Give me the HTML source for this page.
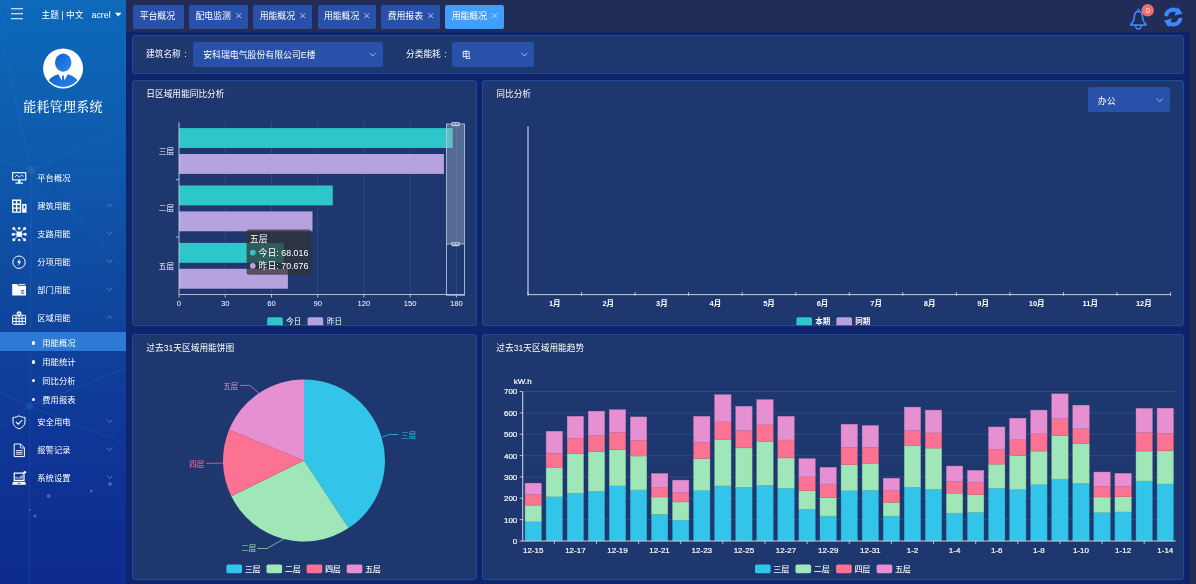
<!DOCTYPE html><html lang="zh-CN"><head><meta charset="utf-8"><title>能耗管理系统</title><style>
html,body{margin:0;padding:0;}
body{width:1196px;height:584px;overflow:hidden;background:#10246b;font-family:"Liberation Sans","Noto Sans CJK SC",sans-serif;color:#fff;position:relative;font-size:8.7px;}
*{box-sizing:border-box;}
.abs{position:absolute;}
#side{position:absolute;left:0;top:0;width:126px;height:584px;overflow:hidden;
 background:linear-gradient(180deg,#0d69ba 0%,#0e5bae 25%,#0f489f 50%,#0f3696 75%,#0e2b8f 100%);}
#top{position:absolute;left:126px;top:0;width:1070px;height:32px;background:#212c57;}
#scroll{position:absolute;left:1190px;top:32px;width:6px;height:552px;background:#212c57;}
.tab{position:absolute;top:5px;height:23.5px;background:#2a51a9;border-radius:2px;line-height:23px;font-size:8.85px;white-space:nowrap;padding-left:6.3px;}
.tab.on{background:#409eff;}
.tab svg{position:absolute;left:auto;right:7px;top:8.2px;width:5.4px;height:5.4px}
.panel{position:absolute;background:#1e376f;border:1px solid #1d4c9d;border-radius:3px;}
.ptitle{position:absolute;font-size:8.7px;line-height:12px;white-space:nowrap;}
.sel{position:absolute;background:#2a51a9;border-radius:2.5px;font-size:8.9px;white-space:nowrap;}
.sel span{position:absolute;top:50%;transform:translateY(-50%);}
.mi{position:absolute;left:0;width:126px;height:28px;line-height:28px;font-size:8.3px;}
.mi .t{position:absolute;left:37.3px;top:0;}
.sub{position:absolute;left:0;width:126px;height:18.7px;line-height:18.7px;font-size:8.3px;}
.sub .t{position:absolute;left:42.3px;top:1.8px;}
.sub .d{position:absolute;left:32px;top:9.4px;width:3.2px;height:3.2px;border-radius:50%;background:#fff;}
.sub.on{background:#2c7ad6;}
svg{position:absolute;left:0;top:0;overflow:visible}
svg text{font-family:"Liberation Sans","Noto Sans CJK SC",sans-serif;}
</style></head><body>
<div id="side">
<svg width="126" height="584" viewBox="0 0 126 584"><g stroke="#3b8fe0" stroke-opacity="0.26" stroke-width="0.7" fill="none"><path d="M31.3 170 L30 406 L29 584"/><path d="M31.3 170 L126 127"/><path d="M31.3 170 L0 161"/><path d="M31.3 170 L126 270"/><path d="M31.3 170 L0 31"/><path d="M0 31 L12 0"/><path d="M0 428 L29.5 406 L126 444"/><path d="M29.5 406 L126 368"/><path d="M0 392 L29.5 406"/></g><circle cx="31.3" cy="170" r="4.2" fill="#1f78cf" fill-opacity="0.45"/><circle cx="29.5" cy="406" r="3.5" fill="#1f60cf" fill-opacity="0.4"/><g fill="#8f7fd6" fill-opacity="0.55"><circle cx="48.6" cy="496" r="2"/><circle cx="91.4" cy="491" r="1.5"/><circle cx="110" cy="484" r="2"/><circle cx="35" cy="516" r="1.6"/><circle cx="30" cy="510" r="1"/></g></svg>
<svg width="126" height="40" viewBox="0 0 126 40"><g stroke="#fff" stroke-width="1.1"><path d="M11 8.8H23M11 13.8H23M11 18.8H23"/></g><path d="M115 12.7 L121.5 12.7 L118.25 16.6 Z" fill="#fff"/></svg>
<div class="abs" style="left:41.5px;top:8px;line-height:14px;font-size:8.7px;white-space:nowrap">主题 | 中文</div>
<div class="abs" style="left:91.5px;top:7.5px;line-height:14px;font-size:8.9px;white-space:nowrap">acrel</div>
<svg width="126" height="100" viewBox="0 0 126 100"><defs><linearGradient id="ag" x1="0" y1="0" x2="1" y2="1"><stop offset="0" stop-color="#0d5fd0"/><stop offset="1" stop-color="#2d8bf0"/></linearGradient><clipPath id="ac"><circle cx="63.1" cy="68.4" r="18.6"/></clipPath></defs><circle cx="63.1" cy="68.4" r="20" fill="#fff"/><g clip-path="url(#ac)" fill="url(#ag)"><ellipse cx="63.2" cy="62.6" rx="8.2" ry="9.1"/><path d="M46 90 C46 80 52 76 58.5 74.2 L61.6 80.5 L63.1 76.5 L64.6 80.5 L67.7 74.2 C74 76 80.5 80 80.5 90 Z"/><path d="M62.3 75.6 H63.9 L64.4 80.5 L63.1 82 L61.8 80.5 Z"/></g></svg>
<div class="abs" style="left:0;top:98.3px;width:126px;text-align:center;font-family:'Liberation Serif','Noto Serif CJK SC',serif;font-size:13px;letter-spacing:0.25px;line-height:17px;padding-left:0.2px;font-weight:500">能耗管理系统</div>
<div class="mi" style="top:164.3px"><svg width="126" height="28" viewBox="0 0 126 28"><g fill="none" stroke="#fff" stroke-width="1.1"><rect x="12.6" y="8.7" width="13.2" height="7.2"/><path d="M14.8 13.2 L17 11 L19.2 13.3 L21.4 11.3 L23.6 12.3" stroke-width="0.8"/><path d="M15.5 19.1 H22.9" stroke-width="1.3"/><path d="M19.2 16 V18.8" stroke-width="2.4"/></g></svg><span class="t">平台概况</span></div>
<div class="mi" style="top:192.2px"><svg width="126" height="28" viewBox="0 0 126 28"><g fill="#fff"><path fill-rule="evenodd" d="M12 7.6 H21.2 V20.8 H12 Z M13.4 9 V11.6 H15.9 V9 Z M17.3 9 V11.6 H19.8 V9 Z M13.4 12.9 V15.5 H15.9 V12.9 Z M17.3 12.9 V15.5 H19.8 V12.9 Z M13.4 16.8 V19.4 H15.9 V16.8 Z M17.3 16.8 V19.4 H19.8 V16.8 Z"/><path fill-rule="evenodd" d="M22.2 12 H26.5 V20.8 H22.2 Z M23.6 13.6 V16.4 H25.1 V13.6 Z"/></g><path d="M107.1 12.0 L109.7 14.5 L112.3 12.0" stroke="#86a6d6" stroke-opacity="0.8" stroke-width="0.8" fill="none"/></svg><span class="t">建筑用能</span></div>
<div class="mi" style="top:220.1px"><svg width="126" height="28" viewBox="0 0 126 28"><g fill="#fff" stroke="#fff" stroke-width="0.9"><rect x="16.6" y="11.6" width="5.2" height="5.2" stroke="none"/><path d="M14 8.6 L17 11.8 M24.4 8.6 L21.4 11.8 M14 19.8 L17 16.6 M24.4 19.8 L21.4 16.6 M13.4 14.2 H25" fill="none"/><g stroke="none"><circle cx="13.8" cy="8.6" r="1.5"/><circle cx="24.6" cy="8.6" r="1.5"/><circle cx="13.8" cy="19.8" r="1.5"/><circle cx="24.6" cy="19.8" r="1.5"/><circle cx="13.2" cy="14.2" r="1.5"/><circle cx="25.2" cy="14.2" r="1.5"/><circle cx="19.2" cy="8.4" r="1.3"/><circle cx="19.2" cy="20" r="1.3"/></g></g><path d="M107.1 12.0 L109.7 14.5 L112.3 12.0" stroke="#86a6d6" stroke-opacity="0.8" stroke-width="0.8" fill="none"/></svg><span class="t">支路用能</span></div>
<div class="mi" style="top:248.0px"><svg width="126" height="28" viewBox="0 0 126 28"><circle cx="19" cy="14.2" r="6.2" fill="none" stroke="#fff" stroke-width="1"/><path d="M20 10.6 L17 14.6 H19 L18.2 17.8 L21.2 13.6 H19.2 Z" fill="#fff"/><path d="M107.1 12.0 L109.7 14.5 L112.3 12.0" stroke="#86a6d6" stroke-opacity="0.8" stroke-width="0.8" fill="none"/></svg><span class="t">分项用能</span></div>
<div class="mi" style="top:275.9px"><svg width="126" height="28" viewBox="0 0 126 28"><path fill="#fff" fill-rule="evenodd" d="M12.2 8 H17 L18.4 9.8 H26 V19.6 H12.2 Z M21 14.2 V15.2 H24.2 V14.2 Z M21 16.4 V17.4 H24.2 V16.4 Z"/><path d="M18.5 8.4 H25.2" stroke="#fff" stroke-width="0.9"/><path d="M107.1 12.0 L109.7 14.5 L112.3 12.0" stroke="#86a6d6" stroke-opacity="0.8" stroke-width="0.8" fill="none"/></svg><span class="t">部门用能</span></div>
<div class="mi" style="top:303.8px"><svg width="126" height="28" viewBox="0 0 126 28"><g fill="none" stroke="#fff" stroke-width="1"><rect x="12.6" y="11.2" width="13" height="9.2" rx="1"/><path d="M12.6 14.3 H25.6 M12.6 17.4 H25.6 M16.1 11.2 V20.4 M19.1 14.3 V20.4 M22.1 11.2 V20.4"/></g><path d="M19.1 7 a2.6 2.6 0 0 1 2.6 2.6 c0 1.8 -2.6 4.4 -2.6 4.4 s-2.6 -2.6 -2.6 -4.4 A2.6 2.6 0 0 1 19.1 7 Z" fill="#fff" stroke="#0f4ba4" stroke-width="0.5"/><circle cx="19.1" cy="9.6" r="0.9" fill="#0f4ba4"/><path d="M107.1 14.5 L109.7 12.0 L112.3 14.5" stroke="#86a6d6" stroke-opacity="0.8" stroke-width="0.8" fill="none"/></svg><span class="t">区域用能</span></div>
<div class="mi" style="top:407.9px"><svg width="126" height="28" viewBox="0 0 126 28"><path d="M19 7.8 C21 9 23 9.4 25 9.4 V14 C25 17.4 22.4 19.6 19 20.8 C15.6 19.6 13 17.4 13 14 V9.4 C15 9.4 17 9 19 7.8 Z" fill="none" stroke="#fff" stroke-width="1"/><path d="M16 14 L18.3 16.2 L22.2 12" fill="none" stroke="#fff" stroke-width="1.1"/><path d="M107.1 12.0 L109.7 14.5 L112.3 12.0" stroke="#86a6d6" stroke-opacity="0.8" stroke-width="0.8" fill="none"/></svg><span class="t">安全用电</span></div>
<div class="mi" style="top:436.0px"><svg width="126" height="28" viewBox="0 0 126 28"><path d="M14.2 8 H20.6 L24.4 11.8 V20.6 H14.2 Z" fill="none" stroke="#fff" stroke-width="1"/><path d="M20.4 8.2 V12 H24.2" fill="none" stroke="#fff" stroke-width="0.8"/><path d="M16 14.6 H22.6 M16 16.4 H22.6 M16 18.2 H22.6" stroke="#fff" stroke-width="0.9"/><path d="M107.1 12.0 L109.7 14.5 L112.3 12.0" stroke="#86a6d6" stroke-opacity="0.8" stroke-width="0.8" fill="none"/></svg><span class="t">报警记录</span></div>
<div class="mi" style="top:463.7px"><svg width="126" height="28" viewBox="0 0 126 28"><path fill="#fff" fill-rule="evenodd" d="M13.6 8.6 H24.6 V17 H13.6 Z M14.8 9.8 V15.8 H23.4 V9.8 Z"/><path d="M16 14.8 V12.4 M17.6 14.8 V13.4 M19.2 14.8 V12.8 M20.8 14.8 V12 M22.2 14.8 V11" stroke="#fff" stroke-width="0.8"/><path d="M13 17.8 H25.2 L26 20.8 H12.2 Z" fill="#fff"/><rect x="17.6" y="18.9" width="3" height="0.8" fill="#10389b"/><circle cx="24.8" cy="8.2" r="1.3" fill="#fff"/><path d="M107.1 12.0 L109.7 14.5 L112.3 12.0" stroke="#86a6d6" stroke-opacity="0.8" stroke-width="0.8" fill="none"/></svg><span class="t">系统设置</span></div>
<div class="sub on" style="top:332.0px"><span class="d"></span><span class="t">用能概况</span></div>
<div class="sub" style="top:351.0px"><span class="d"></span><span class="t">用能统计</span></div>
<div class="sub" style="top:369.9px"><span class="d"></span><span class="t">同比分析</span></div>
<div class="sub" style="top:388.8px"><span class="d"></span><span class="t">费用报表</span></div>
</div>
<div id="top">
<div class="tab" style="left:7.4px;width:50.8px">平台概况</div>
<div class="tab" style="left:63.2px;width:58.9px">配电监测<svg viewBox="0 0 5.4 5.4"><path d="M0.3 0.3 L5.1 5.1 M5.1 0.3 L0.3 5.1" stroke="#e3ebfb" stroke-width="0.75" fill="none"/></svg></div>
<div class="tab" style="left:127.4px;width:58.9px">用能概况<svg viewBox="0 0 5.4 5.4"><path d="M0.3 0.3 L5.1 5.1 M5.1 0.3 L0.3 5.1" stroke="#e3ebfb" stroke-width="0.75" fill="none"/></svg></div>
<div class="tab" style="left:191.6px;width:58.9px">用能概况<svg viewBox="0 0 5.4 5.4"><path d="M0.3 0.3 L5.1 5.1 M5.1 0.3 L0.3 5.1" stroke="#e3ebfb" stroke-width="0.75" fill="none"/></svg></div>
<div class="tab" style="left:255.4px;width:58.9px">费用报表<svg viewBox="0 0 5.4 5.4"><path d="M0.3 0.3 L5.1 5.1 M5.1 0.3 L0.3 5.1" stroke="#e3ebfb" stroke-width="0.75" fill="none"/></svg></div>
<div class="tab on" style="left:319.4px;width:58.7px">用能概况<svg viewBox="0 0 5.4 5.4"><path d="M0.3 0.3 L5.1 5.1 M5.1 0.3 L0.3 5.1" stroke="#e3ebfb" stroke-width="0.75" fill="none"/></svg></div>
<svg width="1070" height="32" viewBox="126 0 1070 32"><g fill="none" stroke="#4087ff" stroke-width="1.7" stroke-linejoin="round"><path d="M1138.4 11.5 C1135.6 11.5 1134.6 13.4 1134.4 16 C1134.2 19.6 1133.6 22 1130.9 24.2 V25.1 H1145.9 V24.2 C1143.2 22 1142.6 19.6 1142.4 16 C1142.2 13.4 1141.2 11.5 1138.4 11.5 Z"/><circle cx="1138.4" cy="10" r="1.1" stroke-width="1"/><path d="M1135.6 26 C1135.8 30 1141 30 1141.2 26" stroke-width="1.3"/></g><circle cx="1147.7" cy="10.3" r="6.2" fill="#f56c6c"/><text x="1147.7" y="13.1" font-size="7.4" fill="#fff" text-anchor="middle">0</text><g><path d="M1166 16.3 A7.3 7.3 0 0 1 1178.2 11.6" fill="none" stroke="#4087ff" stroke-width="4"/><path d="M1177.9 6.9 L1182.5 13.6 L1174.4 15.7 Z" fill="#4087ff"/></g><g transform="rotate(180 1173.2 17.1)"><path d="M1166 16.3 A7.3 7.3 0 0 1 1178.2 11.6" fill="none" stroke="#4087ff" stroke-width="4"/><path d="M1177.9 6.9 L1182.5 13.6 L1174.4 15.7 Z" fill="#4087ff"/></g></svg>
</div>
<div id="scroll"></div>
<div class="panel" style="left:132px;top:35px;width:1052px;height:39px"></div>
<div class="abs" style="left:146px;top:47px;line-height:14px;font-size:8.7px;white-space:nowrap">建筑名称<span style="margin-left:3.6px">:</span></div>
<div class="sel" style="left:193px;top:41.8px;width:190px;height:25px"><span style="left:10.2px">安科瑞电气股份有限公司E楼</span></div>
<div class="abs" style="left:406px;top:47px;line-height:14px;font-size:8.7px;white-space:nowrap">分类能耗<span style="margin-left:3.6px">:</span></div>
<div class="sel" style="left:452px;top:41.8px;width:82px;height:25px"><span style="left:9.8px">电</span></div>
<div class="panel" style="left:132px;top:80px;width:345px;height:246px"></div>
<div class="panel" style="left:482px;top:80px;width:702px;height:246px"></div>
<div class="panel" style="left:132px;top:334px;width:345px;height:246px"></div>
<div class="panel" style="left:482px;top:334px;width:702px;height:246px"></div>
<div class="ptitle" style="left:146.3px;top:88px">日区域用能同比分析</div>
<div class="ptitle" style="left:496.3px;top:88px">同比分析</div>
<div class="ptitle" style="left:146.3px;top:342px">过去31天区域用能饼图</div>
<div class="ptitle" style="left:496.3px;top:342px">过去31天区域用能趋势</div>
<div class="sel" style="left:1088px;top:87.4px;width:82px;height:25px"><span style="left:9.8px;font-size:8.9px">办公</span></div>
<svg width="1196" height="584" viewBox="0 0 1196 584">
<path d="M369.6 52.9 L372.6 56.0 L375.6 52.9" stroke="#c3cfec" stroke-width="0.85" fill="none"/><path d="M521.4 52.9 L524.4 56.0 L527.4 52.9" stroke="#c3cfec" stroke-width="0.85" fill="none"/><path d="M1156.7 98.5 L1159.7 101.6 L1162.7 98.5" stroke="#c3cfec" stroke-width="0.85" fill="none"/>
<line x1="225.2" y1="122.3" x2="225.2" y2="294.5" stroke="#ffffff" stroke-opacity="0.13" stroke-width="0.7"/>
<line x1="271.5" y1="122.3" x2="271.5" y2="294.5" stroke="#ffffff" stroke-opacity="0.13" stroke-width="0.7"/>
<line x1="317.7" y1="122.3" x2="317.7" y2="294.5" stroke="#ffffff" stroke-opacity="0.13" stroke-width="0.7"/>
<line x1="363.9" y1="122.3" x2="363.9" y2="294.5" stroke="#ffffff" stroke-opacity="0.13" stroke-width="0.7"/>
<line x1="410.2" y1="122.3" x2="410.2" y2="294.5" stroke="#ffffff" stroke-opacity="0.13" stroke-width="0.7"/>
<line x1="456.4" y1="122.3" x2="456.4" y2="294.5" stroke="#ffffff" stroke-opacity="0.13" stroke-width="0.7"/>
<rect x="179.0" y="128.1" width="273.7" height="19.9" fill="#2ec7c9"/>
<rect x="179.0" y="154.0" width="264.9" height="19.9" fill="#b6a2de"/>
<text x="174" y="153.9" font-size="7.6" fill="#fff" text-anchor="end">三层</text>
<rect x="179.0" y="185.5" width="153.8" height="19.9" fill="#2ec7c9"/>
<rect x="179.0" y="211.4" width="133.5" height="19.9" fill="#b6a2de"/>
<text x="174" y="211.3" font-size="7.6" fill="#fff" text-anchor="end">二层</text>
<rect x="179.0" y="242.9" width="104.8" height="19.9" fill="#2ec7c9"/>
<rect x="179.0" y="268.8" width="108.9" height="19.9" fill="#b6a2de"/>
<text x="174" y="268.7" font-size="7.6" fill="#fff" text-anchor="end">五层</text>
<path d="M179.0 122.3 V294.5 H464.6" stroke="#d6dcea" stroke-width="0.8" fill="none"/>
<line x1="175.8" y1="179.7" x2="179.0" y2="179.7" stroke="#d6dcea" stroke-width="0.8"/>
<line x1="175.8" y1="237.1" x2="179.0" y2="237.1" stroke="#d6dcea" stroke-width="0.8"/>
<line x1="179.0" y1="294.5" x2="179.0" y2="297.5" stroke="#d6dcea" stroke-width="0.8"/>
<text x="179.0" y="305.9" font-size="7.7" fill="#fff" text-anchor="middle">0</text>
<line x1="225.2" y1="294.5" x2="225.2" y2="297.5" stroke="#d6dcea" stroke-width="0.8"/>
<text x="225.2" y="305.9" font-size="7.7" fill="#fff" text-anchor="middle">30</text>
<line x1="271.5" y1="294.5" x2="271.5" y2="297.5" stroke="#d6dcea" stroke-width="0.8"/>
<text x="271.5" y="305.9" font-size="7.7" fill="#fff" text-anchor="middle">60</text>
<line x1="317.7" y1="294.5" x2="317.7" y2="297.5" stroke="#d6dcea" stroke-width="0.8"/>
<text x="317.7" y="305.9" font-size="7.7" fill="#fff" text-anchor="middle">90</text>
<line x1="363.9" y1="294.5" x2="363.9" y2="297.5" stroke="#d6dcea" stroke-width="0.8"/>
<text x="363.9" y="305.9" font-size="7.7" fill="#fff" text-anchor="middle">120</text>
<line x1="410.2" y1="294.5" x2="410.2" y2="297.5" stroke="#d6dcea" stroke-width="0.8"/>
<text x="410.2" y="305.9" font-size="7.7" fill="#fff" text-anchor="middle">150</text>
<line x1="456.4" y1="294.5" x2="456.4" y2="297.5" stroke="#d6dcea" stroke-width="0.8"/>
<text x="456.4" y="305.9" font-size="7.7" fill="#fff" text-anchor="middle">180</text>
<rect x="446.5" y="124" width="18" height="171.2" fill="none" stroke="#c9d1e3" stroke-width="0.8"/>
<rect x="446.5" y="124" width="18" height="120" fill="#a7b7cc" fill-opacity="0.4"/>
<line x1="446.5" y1="244" x2="464.5" y2="244" stroke="#c9d1e3" stroke-width="0.8"/>
<rect x="451.4" y="122.1" width="8.3" height="4.2" rx="0.8" fill="#b4c0d6"/>
<rect x="452.9" y="123.0" width="2.1" height="1.3" fill="#5d7098"/><rect x="456.1" y="123.0" width="2.1" height="1.3" fill="#5d7098"/>
<rect x="451.4" y="242.0" width="8.3" height="4.2" rx="0.8" fill="#b4c0d6"/>
<rect x="452.9" y="242.9" width="2.1" height="1.3" fill="#5d7098"/><rect x="456.1" y="242.9" width="2.1" height="1.3" fill="#5d7098"/>
<path d="M267.2 325.2 V318.9 a1.6 1.6 0 0 1 1.6 -1.6 h12.4 a1.6 1.6 0 0 1 1.6 1.6 V325.2 Z" fill="#2ec7c9"/><text x="286.2" y="324.3" font-size="7.5" fill="#fff">今日</text>
<path d="M307.6 325.2 V318.9 a1.6 1.6 0 0 1 1.6 -1.6 h12.4 a1.6 1.6 0 0 1 1.6 1.6 V325.2 Z" fill="#b6a2de"/><text x="327.0" y="324.3" font-size="7.5" fill="#fff">昨日</text>
<rect x="246.6" y="229.4" width="64.6" height="45.4" rx="2.5" fill="#323232" fill-opacity="0.72"/>
<text x="249.8" y="242.2" font-size="8.9" fill="#fff">五层</text>
<circle cx="252.8" cy="252.6" r="2.9" fill="#2ec7c9"/><text x="258.6" y="255.8" font-size="8.9" fill="#fff">今日: 68.016</text>
<circle cx="252.8" cy="265.8" r="2.9" fill="#b6a2de"/><text x="258.6" y="269" font-size="8.9" fill="#fff">昨日: 70.676</text>
<path d="M528.0 126.2 V294.6" stroke="#b9c2d8" stroke-width="1.3" fill="none"/>
<path d="M528.0 294.6 H1170.6" stroke="#d6dcea" stroke-width="0.9" fill="none"/>
<line x1="528.0" y1="292.0" x2="528.0" y2="295.8" stroke="#d6dcea" stroke-width="0.8"/>
<line x1="581.5" y1="292.0" x2="581.5" y2="295.8" stroke="#d6dcea" stroke-width="0.8"/>
<line x1="635.1" y1="292.0" x2="635.1" y2="295.8" stroke="#d6dcea" stroke-width="0.8"/>
<line x1="688.6" y1="292.0" x2="688.6" y2="295.8" stroke="#d6dcea" stroke-width="0.8"/>
<line x1="742.2" y1="292.0" x2="742.2" y2="295.8" stroke="#d6dcea" stroke-width="0.8"/>
<line x1="795.8" y1="292.0" x2="795.8" y2="295.8" stroke="#d6dcea" stroke-width="0.8"/>
<line x1="849.3" y1="292.0" x2="849.3" y2="295.8" stroke="#d6dcea" stroke-width="0.8"/>
<line x1="902.8" y1="292.0" x2="902.8" y2="295.8" stroke="#d6dcea" stroke-width="0.8"/>
<line x1="956.4" y1="292.0" x2="956.4" y2="295.8" stroke="#d6dcea" stroke-width="0.8"/>
<line x1="1009.9" y1="292.0" x2="1009.9" y2="295.8" stroke="#d6dcea" stroke-width="0.8"/>
<line x1="1063.5" y1="292.0" x2="1063.5" y2="295.8" stroke="#d6dcea" stroke-width="0.8"/>
<line x1="1117.0" y1="292.0" x2="1117.0" y2="295.8" stroke="#d6dcea" stroke-width="0.8"/>
<line x1="1170.6" y1="292.0" x2="1170.6" y2="295.8" stroke="#d6dcea" stroke-width="0.8"/>
<text x="554.8" y="305.8" font-size="7.5" fill="#fff" text-anchor="middle" font-weight="bold">1月</text>
<text x="608.3" y="305.8" font-size="7.5" fill="#fff" text-anchor="middle" font-weight="bold">2月</text>
<text x="661.9" y="305.8" font-size="7.5" fill="#fff" text-anchor="middle" font-weight="bold">3月</text>
<text x="715.4" y="305.8" font-size="7.5" fill="#fff" text-anchor="middle" font-weight="bold">4月</text>
<text x="769.0" y="305.8" font-size="7.5" fill="#fff" text-anchor="middle" font-weight="bold">5月</text>
<text x="822.5" y="305.8" font-size="7.5" fill="#fff" text-anchor="middle" font-weight="bold">6月</text>
<text x="876.1" y="305.8" font-size="7.5" fill="#fff" text-anchor="middle" font-weight="bold">7月</text>
<text x="929.6" y="305.8" font-size="7.5" fill="#fff" text-anchor="middle" font-weight="bold">8月</text>
<text x="983.2" y="305.8" font-size="7.5" fill="#fff" text-anchor="middle" font-weight="bold">9月</text>
<text x="1036.7" y="305.8" font-size="7.5" fill="#fff" text-anchor="middle" font-weight="bold">10月</text>
<text x="1090.3" y="305.8" font-size="7.5" fill="#fff" text-anchor="middle" font-weight="bold">11月</text>
<text x="1143.8" y="305.8" font-size="7.5" fill="#fff" text-anchor="middle" font-weight="bold">12月</text>
<path d="M796.4 325.2 V318.9 a1.6 1.6 0 0 1 1.6 -1.6 h12.4 a1.6 1.6 0 0 1 1.6 1.6 V325.2 Z" fill="#2ec7c9"/><text x="815.2" y="324.3" font-size="7.5" fill="#fff" font-weight="bold">本期</text>
<path d="M836.4 325.2 V318.9 a1.6 1.6 0 0 1 1.6 -1.6 h12.4 a1.6 1.6 0 0 1 1.6 1.6 V325.2 Z" fill="#b6a2de"/><text x="855.2" y="324.3" font-size="7.5" fill="#fff" font-weight="bold">同期</text>
<path d="M304.00 460.50 L304.00 379.50 A81.0 81.0 0 0 1 348.59 528.12 Z" fill="#32c5e9"/>
<path d="M382.3 437 L389.7 434.5 L398.5 434.5" stroke="#32c5e9" stroke-width="0.7" fill="none"/>
<text x="401.3" y="437.8" font-size="7.5" fill="#32c5e9" text-anchor="start">三层</text>
<path d="M304.00 460.50 L348.59 528.12 A81.0 81.0 0 0 1 231.32 496.26 Z" fill="#9fe6b8"/>
<path d="M283.4 539.2 L267 548.5 L257.4 548.5" stroke="#9fe6b8" stroke-width="0.7" fill="none"/>
<text x="256.2" y="551.3" font-size="7.5" fill="#9fe6b8" text-anchor="end">二层</text>
<path d="M304.00 460.50 L231.32 496.26 A81.0 81.0 0 0 1 229.11 429.63 Z" fill="#fb7293"/>
<path d="M223 463.1 L206.4 463.4" stroke="#fb7293" stroke-width="0.7" fill="none"/>
<text x="204.2" y="466.6" font-size="7.5" fill="#fb7293" text-anchor="end">四层</text>
<path d="M304.00 460.50 L229.11 429.63 A81.0 81.0 0 0 1 304.00 379.50 Z" fill="#e690d1"/>
<path d="M259.1 393.2 L249.7 385.4 L240.3 385.4" stroke="#e690d1" stroke-width="0.7" fill="none"/>
<text x="238.2" y="388.8" font-size="7.5" fill="#e690d1" text-anchor="end">五层</text>
<rect x="226.4" y="564.6" width="15.6" height="8.6" rx="1.6" fill="#32c5e9"/><text x="245.0" y="571.9" font-size="7.8" fill="#fff" stroke="#fff" stroke-width="0.15">三层</text>
<rect x="266.5" y="564.6" width="15.6" height="8.6" rx="1.6" fill="#9fe6b8"/><text x="285.1" y="571.9" font-size="7.8" fill="#fff" stroke="#fff" stroke-width="0.15">二层</text>
<rect x="306.6" y="564.6" width="15.6" height="8.6" rx="1.6" fill="#fb7293"/><text x="325.2" y="571.9" font-size="7.8" fill="#fff" stroke="#fff" stroke-width="0.15">四层</text>
<rect x="346.7" y="564.6" width="15.6" height="8.6" rx="1.6" fill="#e690d1"/><text x="365.3" y="571.9" font-size="7.8" fill="#fff" stroke="#fff" stroke-width="0.15">五层</text>
<line x1="522.7" y1="519.6" x2="1175.8" y2="519.6" stroke="#ffffff" stroke-opacity="0.13" stroke-width="0.7"/>
<line x1="522.7" y1="498.3" x2="1175.8" y2="498.3" stroke="#ffffff" stroke-opacity="0.13" stroke-width="0.7"/>
<line x1="522.7" y1="476.9" x2="1175.8" y2="476.9" stroke="#ffffff" stroke-opacity="0.13" stroke-width="0.7"/>
<line x1="522.7" y1="455.6" x2="1175.8" y2="455.6" stroke="#ffffff" stroke-opacity="0.13" stroke-width="0.7"/>
<line x1="522.7" y1="434.2" x2="1175.8" y2="434.2" stroke="#ffffff" stroke-opacity="0.13" stroke-width="0.7"/>
<line x1="522.7" y1="412.9" x2="1175.8" y2="412.9" stroke="#ffffff" stroke-opacity="0.13" stroke-width="0.7"/>
<line x1="522.7" y1="391.5" x2="1175.8" y2="391.5" stroke="#ffffff" stroke-opacity="0.13" stroke-width="0.7"/>
<rect x="525.03" y="521.78" width="16.40" height="19.22" fill="#32c5e9" stroke="#2aa6c6" stroke-width="0.4"/>
<rect x="525.03" y="505.12" width="16.40" height="16.66" fill="#9fe6b8" stroke="#86c49c" stroke-width="0.4"/>
<rect x="525.03" y="494.44" width="16.40" height="10.68" fill="#fb7293" stroke="#d5607c" stroke-width="0.4"/>
<rect x="525.03" y="483.12" width="16.40" height="11.32" fill="#e690d1" stroke="#c47ab1" stroke-width="0.4"/>
<rect x="546.10" y="496.79" width="16.40" height="44.21" fill="#32c5e9" stroke="#2aa6c6" stroke-width="0.4"/>
<rect x="546.10" y="467.32" width="16.40" height="29.47" fill="#9fe6b8" stroke="#86c49c" stroke-width="0.4"/>
<rect x="546.10" y="453.44" width="16.40" height="13.88" fill="#fb7293" stroke="#d5607c" stroke-width="0.4"/>
<rect x="546.10" y="431.22" width="16.40" height="22.21" fill="#e690d1" stroke="#c47ab1" stroke-width="0.4"/>
<rect x="567.17" y="493.16" width="16.40" height="47.84" fill="#32c5e9" stroke="#2aa6c6" stroke-width="0.4"/>
<rect x="567.17" y="453.65" width="16.40" height="39.51" fill="#9fe6b8" stroke="#86c49c" stroke-width="0.4"/>
<rect x="567.17" y="438.49" width="16.40" height="15.16" fill="#fb7293" stroke="#d5607c" stroke-width="0.4"/>
<rect x="567.17" y="416.27" width="16.40" height="22.21" fill="#e690d1" stroke="#c47ab1" stroke-width="0.4"/>
<rect x="588.24" y="491.24" width="16.40" height="49.76" fill="#32c5e9" stroke="#2aa6c6" stroke-width="0.4"/>
<rect x="588.24" y="451.51" width="16.40" height="39.72" fill="#9fe6b8" stroke="#86c49c" stroke-width="0.4"/>
<rect x="588.24" y="435.50" width="16.40" height="16.02" fill="#fb7293" stroke="#d5607c" stroke-width="0.4"/>
<rect x="588.24" y="411.15" width="16.40" height="24.35" fill="#e690d1" stroke="#c47ab1" stroke-width="0.4"/>
<rect x="609.30" y="485.90" width="16.40" height="55.10" fill="#32c5e9" stroke="#2aa6c6" stroke-width="0.4"/>
<rect x="609.30" y="449.81" width="16.40" height="36.09" fill="#9fe6b8" stroke="#86c49c" stroke-width="0.4"/>
<rect x="609.30" y="432.29" width="16.40" height="17.51" fill="#fb7293" stroke="#d5607c" stroke-width="0.4"/>
<rect x="609.30" y="409.65" width="16.40" height="22.64" fill="#e690d1" stroke="#c47ab1" stroke-width="0.4"/>
<rect x="630.37" y="489.96" width="16.40" height="51.04" fill="#32c5e9" stroke="#2aa6c6" stroke-width="0.4"/>
<rect x="630.37" y="456.00" width="16.40" height="33.96" fill="#9fe6b8" stroke="#86c49c" stroke-width="0.4"/>
<rect x="630.37" y="440.41" width="16.40" height="15.59" fill="#fb7293" stroke="#d5607c" stroke-width="0.4"/>
<rect x="630.37" y="416.91" width="16.40" height="23.49" fill="#e690d1" stroke="#c47ab1" stroke-width="0.4"/>
<rect x="651.44" y="514.30" width="16.40" height="26.70" fill="#32c5e9" stroke="#2aa6c6" stroke-width="0.4"/>
<rect x="651.44" y="497.00" width="16.40" height="17.30" fill="#9fe6b8" stroke="#86c49c" stroke-width="0.4"/>
<rect x="651.44" y="487.61" width="16.40" height="9.40" fill="#fb7293" stroke="#d5607c" stroke-width="0.4"/>
<rect x="651.44" y="473.51" width="16.40" height="14.10" fill="#e690d1" stroke="#c47ab1" stroke-width="0.4"/>
<rect x="672.51" y="520.07" width="16.40" height="20.93" fill="#32c5e9" stroke="#2aa6c6" stroke-width="0.4"/>
<rect x="672.51" y="501.92" width="16.40" height="18.15" fill="#9fe6b8" stroke="#86c49c" stroke-width="0.4"/>
<rect x="672.51" y="492.52" width="16.40" height="9.40" fill="#fb7293" stroke="#d5607c" stroke-width="0.4"/>
<rect x="672.51" y="480.13" width="16.40" height="12.39" fill="#e690d1" stroke="#c47ab1" stroke-width="0.4"/>
<rect x="693.58" y="490.60" width="16.40" height="50.40" fill="#32c5e9" stroke="#2aa6c6" stroke-width="0.4"/>
<rect x="693.58" y="458.56" width="16.40" height="32.04" fill="#9fe6b8" stroke="#86c49c" stroke-width="0.4"/>
<rect x="693.58" y="442.33" width="16.40" height="16.23" fill="#fb7293" stroke="#d5607c" stroke-width="0.4"/>
<rect x="693.58" y="416.27" width="16.40" height="26.06" fill="#e690d1" stroke="#c47ab1" stroke-width="0.4"/>
<rect x="714.64" y="485.90" width="16.40" height="55.10" fill="#32c5e9" stroke="#2aa6c6" stroke-width="0.4"/>
<rect x="714.64" y="439.34" width="16.40" height="46.56" fill="#9fe6b8" stroke="#86c49c" stroke-width="0.4"/>
<rect x="714.64" y="421.83" width="16.40" height="17.51" fill="#fb7293" stroke="#d5607c" stroke-width="0.4"/>
<rect x="714.64" y="394.70" width="16.40" height="27.12" fill="#e690d1" stroke="#c47ab1" stroke-width="0.4"/>
<rect x="735.71" y="487.18" width="16.40" height="53.82" fill="#32c5e9" stroke="#2aa6c6" stroke-width="0.4"/>
<rect x="735.71" y="447.88" width="16.40" height="39.30" fill="#9fe6b8" stroke="#86c49c" stroke-width="0.4"/>
<rect x="735.71" y="430.37" width="16.40" height="17.51" fill="#fb7293" stroke="#d5607c" stroke-width="0.4"/>
<rect x="735.71" y="406.24" width="16.40" height="24.13" fill="#e690d1" stroke="#c47ab1" stroke-width="0.4"/>
<rect x="756.78" y="485.26" width="16.40" height="55.74" fill="#32c5e9" stroke="#2aa6c6" stroke-width="0.4"/>
<rect x="756.78" y="441.26" width="16.40" height="44.00" fill="#9fe6b8" stroke="#86c49c" stroke-width="0.4"/>
<rect x="756.78" y="424.82" width="16.40" height="16.44" fill="#fb7293" stroke="#d5607c" stroke-width="0.4"/>
<rect x="756.78" y="399.62" width="16.40" height="25.20" fill="#e690d1" stroke="#c47ab1" stroke-width="0.4"/>
<rect x="777.85" y="488.25" width="16.40" height="52.75" fill="#32c5e9" stroke="#2aa6c6" stroke-width="0.4"/>
<rect x="777.85" y="457.92" width="16.40" height="30.33" fill="#9fe6b8" stroke="#86c49c" stroke-width="0.4"/>
<rect x="777.85" y="439.98" width="16.40" height="17.94" fill="#fb7293" stroke="#d5607c" stroke-width="0.4"/>
<rect x="777.85" y="416.27" width="16.40" height="23.71" fill="#e690d1" stroke="#c47ab1" stroke-width="0.4"/>
<rect x="798.91" y="509.18" width="16.40" height="31.82" fill="#32c5e9" stroke="#2aa6c6" stroke-width="0.4"/>
<rect x="798.91" y="490.81" width="16.40" height="18.37" fill="#9fe6b8" stroke="#86c49c" stroke-width="0.4"/>
<rect x="798.91" y="476.93" width="16.40" height="13.88" fill="#fb7293" stroke="#d5607c" stroke-width="0.4"/>
<rect x="798.91" y="458.56" width="16.40" height="18.37" fill="#e690d1" stroke="#c47ab1" stroke-width="0.4"/>
<rect x="819.98" y="516.01" width="16.40" height="24.99" fill="#32c5e9" stroke="#2aa6c6" stroke-width="0.4"/>
<rect x="819.98" y="497.64" width="16.40" height="18.37" fill="#9fe6b8" stroke="#86c49c" stroke-width="0.4"/>
<rect x="819.98" y="483.98" width="16.40" height="13.67" fill="#fb7293" stroke="#d5607c" stroke-width="0.4"/>
<rect x="819.98" y="467.32" width="16.40" height="16.66" fill="#e690d1" stroke="#c47ab1" stroke-width="0.4"/>
<rect x="841.05" y="490.81" width="16.40" height="50.19" fill="#32c5e9" stroke="#2aa6c6" stroke-width="0.4"/>
<rect x="841.05" y="464.75" width="16.40" height="26.06" fill="#9fe6b8" stroke="#86c49c" stroke-width="0.4"/>
<rect x="841.05" y="447.24" width="16.40" height="17.51" fill="#fb7293" stroke="#d5607c" stroke-width="0.4"/>
<rect x="841.05" y="424.18" width="16.40" height="23.07" fill="#e690d1" stroke="#c47ab1" stroke-width="0.4"/>
<rect x="862.12" y="490.17" width="16.40" height="50.83" fill="#32c5e9" stroke="#2aa6c6" stroke-width="0.4"/>
<rect x="862.12" y="463.26" width="16.40" height="26.91" fill="#9fe6b8" stroke="#86c49c" stroke-width="0.4"/>
<rect x="862.12" y="447.46" width="16.40" height="15.80" fill="#fb7293" stroke="#d5607c" stroke-width="0.4"/>
<rect x="862.12" y="425.46" width="16.40" height="22.00" fill="#e690d1" stroke="#c47ab1" stroke-width="0.4"/>
<rect x="883.19" y="516.01" width="16.40" height="24.99" fill="#32c5e9" stroke="#2aa6c6" stroke-width="0.4"/>
<rect x="883.19" y="502.34" width="16.40" height="13.67" fill="#9fe6b8" stroke="#86c49c" stroke-width="0.4"/>
<rect x="883.19" y="490.60" width="16.40" height="11.75" fill="#fb7293" stroke="#d5607c" stroke-width="0.4"/>
<rect x="883.19" y="478.21" width="16.40" height="12.39" fill="#e690d1" stroke="#c47ab1" stroke-width="0.4"/>
<rect x="904.25" y="487.18" width="16.40" height="53.82" fill="#32c5e9" stroke="#2aa6c6" stroke-width="0.4"/>
<rect x="904.25" y="445.32" width="16.40" height="41.86" fill="#9fe6b8" stroke="#86c49c" stroke-width="0.4"/>
<rect x="904.25" y="430.37" width="16.40" height="14.95" fill="#fb7293" stroke="#d5607c" stroke-width="0.4"/>
<rect x="904.25" y="407.09" width="16.40" height="23.28" fill="#e690d1" stroke="#c47ab1" stroke-width="0.4"/>
<rect x="925.32" y="489.32" width="16.40" height="51.68" fill="#32c5e9" stroke="#2aa6c6" stroke-width="0.4"/>
<rect x="925.32" y="448.10" width="16.40" height="41.22" fill="#9fe6b8" stroke="#86c49c" stroke-width="0.4"/>
<rect x="925.32" y="432.93" width="16.40" height="15.16" fill="#fb7293" stroke="#d5607c" stroke-width="0.4"/>
<rect x="925.32" y="410.08" width="16.40" height="22.85" fill="#e690d1" stroke="#c47ab1" stroke-width="0.4"/>
<rect x="946.39" y="513.02" width="16.40" height="27.98" fill="#32c5e9" stroke="#2aa6c6" stroke-width="0.4"/>
<rect x="946.39" y="493.16" width="16.40" height="19.86" fill="#9fe6b8" stroke="#86c49c" stroke-width="0.4"/>
<rect x="946.39" y="481.41" width="16.40" height="11.75" fill="#fb7293" stroke="#d5607c" stroke-width="0.4"/>
<rect x="946.39" y="466.04" width="16.40" height="15.38" fill="#e690d1" stroke="#c47ab1" stroke-width="0.4"/>
<rect x="967.46" y="512.38" width="16.40" height="28.62" fill="#32c5e9" stroke="#2aa6c6" stroke-width="0.4"/>
<rect x="967.46" y="494.65" width="16.40" height="17.73" fill="#9fe6b8" stroke="#86c49c" stroke-width="0.4"/>
<rect x="967.46" y="482.48" width="16.40" height="12.17" fill="#fb7293" stroke="#d5607c" stroke-width="0.4"/>
<rect x="967.46" y="470.31" width="16.40" height="12.17" fill="#e690d1" stroke="#c47ab1" stroke-width="0.4"/>
<rect x="988.52" y="488.25" width="16.40" height="52.75" fill="#32c5e9" stroke="#2aa6c6" stroke-width="0.4"/>
<rect x="988.52" y="464.11" width="16.40" height="24.13" fill="#9fe6b8" stroke="#86c49c" stroke-width="0.4"/>
<rect x="988.52" y="449.16" width="16.40" height="14.95" fill="#fb7293" stroke="#d5607c" stroke-width="0.4"/>
<rect x="988.52" y="426.95" width="16.40" height="22.21" fill="#e690d1" stroke="#c47ab1" stroke-width="0.4"/>
<rect x="1009.59" y="489.53" width="16.40" height="51.47" fill="#32c5e9" stroke="#2aa6c6" stroke-width="0.4"/>
<rect x="1009.59" y="455.57" width="16.40" height="33.96" fill="#9fe6b8" stroke="#86c49c" stroke-width="0.4"/>
<rect x="1009.59" y="439.77" width="16.40" height="15.80" fill="#fb7293" stroke="#d5607c" stroke-width="0.4"/>
<rect x="1009.59" y="418.20" width="16.40" height="21.57" fill="#e690d1" stroke="#c47ab1" stroke-width="0.4"/>
<rect x="1030.66" y="484.62" width="16.40" height="56.38" fill="#32c5e9" stroke="#2aa6c6" stroke-width="0.4"/>
<rect x="1030.66" y="451.09" width="16.40" height="33.53" fill="#9fe6b8" stroke="#86c49c" stroke-width="0.4"/>
<rect x="1030.66" y="433.79" width="16.40" height="17.30" fill="#fb7293" stroke="#d5607c" stroke-width="0.4"/>
<rect x="1030.66" y="410.08" width="16.40" height="23.71" fill="#e690d1" stroke="#c47ab1" stroke-width="0.4"/>
<rect x="1051.73" y="479.06" width="16.40" height="61.94" fill="#32c5e9" stroke="#2aa6c6" stroke-width="0.4"/>
<rect x="1051.73" y="435.71" width="16.40" height="43.35" fill="#9fe6b8" stroke="#86c49c" stroke-width="0.4"/>
<rect x="1051.73" y="418.62" width="16.40" height="17.09" fill="#fb7293" stroke="#d5607c" stroke-width="0.4"/>
<rect x="1051.73" y="393.85" width="16.40" height="24.77" fill="#e690d1" stroke="#c47ab1" stroke-width="0.4"/>
<rect x="1072.80" y="483.34" width="16.40" height="57.66" fill="#32c5e9" stroke="#2aa6c6" stroke-width="0.4"/>
<rect x="1072.80" y="443.40" width="16.40" height="39.94" fill="#9fe6b8" stroke="#86c49c" stroke-width="0.4"/>
<rect x="1072.80" y="428.66" width="16.40" height="14.74" fill="#fb7293" stroke="#d5607c" stroke-width="0.4"/>
<rect x="1072.80" y="405.17" width="16.40" height="23.49" fill="#e690d1" stroke="#c47ab1" stroke-width="0.4"/>
<rect x="1093.86" y="512.60" width="16.40" height="28.40" fill="#32c5e9" stroke="#2aa6c6" stroke-width="0.4"/>
<rect x="1093.86" y="497.00" width="16.40" height="15.59" fill="#9fe6b8" stroke="#86c49c" stroke-width="0.4"/>
<rect x="1093.86" y="486.33" width="16.40" height="10.68" fill="#fb7293" stroke="#d5607c" stroke-width="0.4"/>
<rect x="1093.86" y="472.02" width="16.40" height="14.31" fill="#e690d1" stroke="#c47ab1" stroke-width="0.4"/>
<rect x="1114.93" y="511.95" width="16.40" height="29.05" fill="#32c5e9" stroke="#2aa6c6" stroke-width="0.4"/>
<rect x="1114.93" y="496.79" width="16.40" height="15.16" fill="#9fe6b8" stroke="#86c49c" stroke-width="0.4"/>
<rect x="1114.93" y="486.33" width="16.40" height="10.46" fill="#fb7293" stroke="#d5607c" stroke-width="0.4"/>
<rect x="1114.93" y="473.30" width="16.40" height="13.03" fill="#e690d1" stroke="#c47ab1" stroke-width="0.4"/>
<rect x="1136.00" y="480.99" width="16.40" height="60.01" fill="#32c5e9" stroke="#2aa6c6" stroke-width="0.4"/>
<rect x="1136.00" y="451.09" width="16.40" height="29.90" fill="#9fe6b8" stroke="#86c49c" stroke-width="0.4"/>
<rect x="1136.00" y="432.51" width="16.40" height="18.58" fill="#fb7293" stroke="#d5607c" stroke-width="0.4"/>
<rect x="1136.00" y="408.37" width="16.40" height="24.13" fill="#e690d1" stroke="#c47ab1" stroke-width="0.4"/>
<rect x="1157.07" y="483.98" width="16.40" height="57.02" fill="#32c5e9" stroke="#2aa6c6" stroke-width="0.4"/>
<rect x="1157.07" y="450.87" width="16.40" height="33.10" fill="#9fe6b8" stroke="#86c49c" stroke-width="0.4"/>
<rect x="1157.07" y="433.15" width="16.40" height="17.73" fill="#fb7293" stroke="#d5607c" stroke-width="0.4"/>
<rect x="1157.07" y="408.16" width="16.40" height="24.99" fill="#e690d1" stroke="#c47ab1" stroke-width="0.4"/>
<path d="M522.7 391.5 V541.0 H1175.8" stroke="#c3cbdf" stroke-width="1.1" fill="none"/>
<line x1="519.7" y1="541.0" x2="522.7" y2="541.0" stroke="#d6dcea" stroke-width="0.8"/>
<text x="517.3" y="543.9" font-size="8" fill="#fff" text-anchor="end" stroke="#fff" stroke-width="0.18">0</text>
<line x1="519.7" y1="519.6" x2="522.7" y2="519.6" stroke="#d6dcea" stroke-width="0.8"/>
<text x="517.3" y="522.5" font-size="8" fill="#fff" text-anchor="end" stroke="#fff" stroke-width="0.18">100</text>
<line x1="519.7" y1="498.3" x2="522.7" y2="498.3" stroke="#d6dcea" stroke-width="0.8"/>
<text x="517.3" y="501.2" font-size="8" fill="#fff" text-anchor="end" stroke="#fff" stroke-width="0.18">200</text>
<line x1="519.7" y1="476.9" x2="522.7" y2="476.9" stroke="#d6dcea" stroke-width="0.8"/>
<text x="517.3" y="479.8" font-size="8" fill="#fff" text-anchor="end" stroke="#fff" stroke-width="0.18">300</text>
<line x1="519.7" y1="455.6" x2="522.7" y2="455.6" stroke="#d6dcea" stroke-width="0.8"/>
<text x="517.3" y="458.5" font-size="8" fill="#fff" text-anchor="end" stroke="#fff" stroke-width="0.18">400</text>
<line x1="519.7" y1="434.2" x2="522.7" y2="434.2" stroke="#d6dcea" stroke-width="0.8"/>
<text x="517.3" y="437.1" font-size="8" fill="#fff" text-anchor="end" stroke="#fff" stroke-width="0.18">500</text>
<line x1="519.7" y1="412.9" x2="522.7" y2="412.9" stroke="#d6dcea" stroke-width="0.8"/>
<text x="517.3" y="415.8" font-size="8" fill="#fff" text-anchor="end" stroke="#fff" stroke-width="0.18">600</text>
<line x1="519.7" y1="391.5" x2="522.7" y2="391.5" stroke="#d6dcea" stroke-width="0.8"/>
<text x="517.3" y="394.4" font-size="8" fill="#fff" text-anchor="end" stroke="#fff" stroke-width="0.18">700</text>
<text x="513.8" y="383.8" font-size="8" fill="#fff" stroke="#fff" stroke-width="0.18">kW.h</text>
<text x="533.2" y="553" font-size="8" fill="#fff" text-anchor="middle" stroke="#fff" stroke-width="0.18">12-15</text>
<text x="575.4" y="553" font-size="8" fill="#fff" text-anchor="middle" stroke="#fff" stroke-width="0.18">12-17</text>
<text x="617.5" y="553" font-size="8" fill="#fff" text-anchor="middle" stroke="#fff" stroke-width="0.18">12-19</text>
<text x="659.6" y="553" font-size="8" fill="#fff" text-anchor="middle" stroke="#fff" stroke-width="0.18">12-21</text>
<text x="701.8" y="553" font-size="8" fill="#fff" text-anchor="middle" stroke="#fff" stroke-width="0.18">12-23</text>
<text x="743.9" y="553" font-size="8" fill="#fff" text-anchor="middle" stroke="#fff" stroke-width="0.18">12-25</text>
<text x="786.0" y="553" font-size="8" fill="#fff" text-anchor="middle" stroke="#fff" stroke-width="0.18">12-27</text>
<text x="828.2" y="553" font-size="8" fill="#fff" text-anchor="middle" stroke="#fff" stroke-width="0.18">12-29</text>
<text x="870.3" y="553" font-size="8" fill="#fff" text-anchor="middle" stroke="#fff" stroke-width="0.18">12-31</text>
<text x="912.5" y="553" font-size="8" fill="#fff" text-anchor="middle" stroke="#fff" stroke-width="0.18">1-2</text>
<text x="954.6" y="553" font-size="8" fill="#fff" text-anchor="middle" stroke="#fff" stroke-width="0.18">1-4</text>
<text x="996.7" y="553" font-size="8" fill="#fff" text-anchor="middle" stroke="#fff" stroke-width="0.18">1-6</text>
<text x="1038.9" y="553" font-size="8" fill="#fff" text-anchor="middle" stroke="#fff" stroke-width="0.18">1-8</text>
<text x="1081.0" y="553" font-size="8" fill="#fff" text-anchor="middle" stroke="#fff" stroke-width="0.18">1-10</text>
<text x="1123.1" y="553" font-size="8" fill="#fff" text-anchor="middle" stroke="#fff" stroke-width="0.18">1-12</text>
<text x="1165.3" y="553" font-size="8" fill="#fff" text-anchor="middle" stroke="#fff" stroke-width="0.18">1-14</text>
<line x1="554.3" y1="541.0" x2="554.3" y2="544.0" stroke="#d6dcea" stroke-width="0.8"/>
<line x1="596.4" y1="541.0" x2="596.4" y2="544.0" stroke="#d6dcea" stroke-width="0.8"/>
<line x1="638.6" y1="541.0" x2="638.6" y2="544.0" stroke="#d6dcea" stroke-width="0.8"/>
<line x1="680.7" y1="541.0" x2="680.7" y2="544.0" stroke="#d6dcea" stroke-width="0.8"/>
<line x1="722.8" y1="541.0" x2="722.8" y2="544.0" stroke="#d6dcea" stroke-width="0.8"/>
<line x1="765.0" y1="541.0" x2="765.0" y2="544.0" stroke="#d6dcea" stroke-width="0.8"/>
<line x1="807.1" y1="541.0" x2="807.1" y2="544.0" stroke="#d6dcea" stroke-width="0.8"/>
<line x1="849.2" y1="541.0" x2="849.2" y2="544.0" stroke="#d6dcea" stroke-width="0.8"/>
<line x1="891.4" y1="541.0" x2="891.4" y2="544.0" stroke="#d6dcea" stroke-width="0.8"/>
<line x1="933.5" y1="541.0" x2="933.5" y2="544.0" stroke="#d6dcea" stroke-width="0.8"/>
<line x1="975.7" y1="541.0" x2="975.7" y2="544.0" stroke="#d6dcea" stroke-width="0.8"/>
<line x1="1017.8" y1="541.0" x2="1017.8" y2="544.0" stroke="#d6dcea" stroke-width="0.8"/>
<line x1="1059.9" y1="541.0" x2="1059.9" y2="544.0" stroke="#d6dcea" stroke-width="0.8"/>
<line x1="1102.1" y1="541.0" x2="1102.1" y2="544.0" stroke="#d6dcea" stroke-width="0.8"/>
<line x1="1144.2" y1="541.0" x2="1144.2" y2="544.0" stroke="#d6dcea" stroke-width="0.8"/>
<rect x="755.0" y="564.6" width="15.6" height="8.6" rx="1.6" fill="#32c5e9"/><text x="773.6" y="571.9" font-size="7.8" fill="#fff" stroke="#fff" stroke-width="0.15">三层</text>
<rect x="795.5" y="564.6" width="15.6" height="8.6" rx="1.6" fill="#9fe6b8"/><text x="814.1" y="571.9" font-size="7.8" fill="#fff" stroke="#fff" stroke-width="0.15">二层</text>
<rect x="836.1" y="564.6" width="15.6" height="8.6" rx="1.6" fill="#fb7293"/><text x="854.7" y="571.9" font-size="7.8" fill="#fff" stroke="#fff" stroke-width="0.15">四层</text>
<rect x="876.6" y="564.6" width="15.6" height="8.6" rx="1.6" fill="#e690d1"/><text x="895.2" y="571.9" font-size="7.8" fill="#fff" stroke="#fff" stroke-width="0.15">五层</text>
</svg>
</body></html>
